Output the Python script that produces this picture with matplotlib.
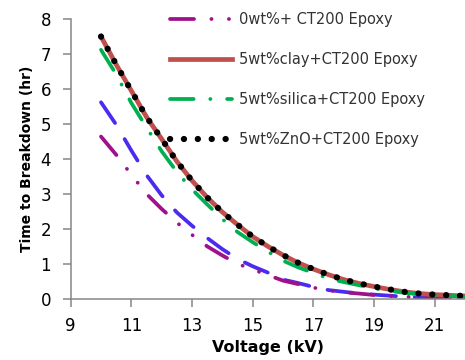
import matplotlib
matplotlib.use("Agg")
import matplotlib.pyplot as plt

# breakdown time vs applied voltage, read every 0.5 kV
voltage = [10.0, 10.5, 11.0, 11.5, 12.0, 12.5, 13.0, 13.5, 14.0, 14.5, 15.0, 15.5, 16.0,
           16.5, 17.0, 17.5, 18.0, 18.5, 19.0, 19.5, 20.0, 20.5, 21.0, 21.5, 22.0]

neat = [4.64, 4.12, 3.55, 3.00, 2.57, 2.18, 1.83, 1.50, 1.24, 1.00, 0.84, 0.68, 0.52,
        0.42, 0.32, 0.24, 0.19, 0.15, 0.11, 0.08, 0.06, 0.04, 0.03, 0.02, 0.01]
neat_fit = [5.62, 4.98, 4.24, 3.54, 2.96, 2.47, 2.09, 1.74, 1.42, 1.14, 0.93, 0.75, 0.55,
            0.45, 0.34, 0.25, 0.20, 0.15, 0.12, 0.09, 0.06, 0.04, 0.03, 0.02, 0.01]
clay = [7.50, 6.70, 5.95, 5.20, 4.57, 3.93, 3.38, 2.90, 2.48, 2.12, 1.78, 1.50, 1.25,
        1.03, 0.85, 0.69, 0.55, 0.44, 0.35, 0.27, 0.20, 0.15, 0.12, 0.10, 0.08]
silica = [7.12, 6.42, 5.60, 4.90, 4.22, 3.63, 3.13, 2.70, 2.28, 1.91, 1.62, 1.35, 1.09,
          0.90, 0.74, 0.58, 0.48, 0.39, 0.30, 0.23, 0.17, 0.13, 0.10, 0.08, 0.06]
zno = [7.50, 6.70, 5.95, 5.20, 4.57, 3.93, 3.38, 2.90, 2.48, 2.12, 1.78, 1.50, 1.25,
       1.03, 0.85, 0.69, 0.55, 0.44, 0.35, 0.27, 0.20, 0.15, 0.12, 0.10, 0.08]

x_ticks = [9, 11, 13, 15, 17, 19, 21]
y_ticks = [0, 1, 2, 3, 4, 5, 6, 7, 8]

plt.rcParams['font.family'] = ['DejaVu Sans']
plt.rcParams['lines.scale_dashes'] = False

fig = plt.figure(figsize=(4.65, 3.6), dpi=100)
ax = fig.add_axes([0.152, 0.170, 0.848, 0.777])

lw = 2.7
ax.plot(voltage, neat_fit, color='#4B2BF0', lw=lw, dash_capstyle='round',
        linestyle=(0, (18, 13.5)))
ax.plot(voltage, neat, color='#A0108A', lw=lw, dash_capstyle='round',
        linestyle=(0, (17.3, 12.5, 0.1, 12.5, 0.1, 12.4)), label='0wt%+ CT200 Epoxy')
ax.plot(voltage, clay, color='#C0504D', lw=3.4, label='5wt%clay+CT200 Epoxy')
ax.plot(voltage, silica, color='#00B050', lw=lw, dash_capstyle='round',
        linestyle=(0, (17, 12, 0.1, 12)), label='5wt%silica+CT200 Epoxy')
ax.plot(voltage, zno, color='black', lw=4.5, dash_capstyle='round',
        linestyle=(0, (0.1, 9.9)), label='5wt%ZnO+CT200 Epoxy')

ax.set_xlim(9, 22)
ax.set_ylim(0, 8)
ax.set_xticks(x_ticks)
ax.set_yticks(y_ticks)

for side in ['top', 'right']:
    ax.spines[side].set_visible(False)
for side in ['left', 'bottom']:
    ax.spines[side].set_color('#868686')
    ax.spines[side].set_linewidth(1.1)
ax.tick_params(axis='both', direction='out', length=6, width=1.1, color='#868686',
               labelsize=12, labelcolor='black')
ax.tick_params(axis='y', pad=8)
ax.tick_params(axis='x', pad=7)

ax.set_xlabel('Voltage (kV)', fontsize=11.5, fontweight='bold', labelpad=4)
ax.set_ylabel('Time to Breakdown (hr)', fontsize=10, fontweight='bold', labelpad=5)

leg = fig.legend(loc='upper left', bbox_to_anchor=(0.366, 0.966), frameon=False,
                 fontsize=10.5, handlelength=4.25, handletextpad=0.48,
                 labelspacing=1.72, borderpad=0, borderaxespad=0)
for t in leg.get_texts():
    t.set_color('#333333')

fig.savefig('out.png', dpi=100)
